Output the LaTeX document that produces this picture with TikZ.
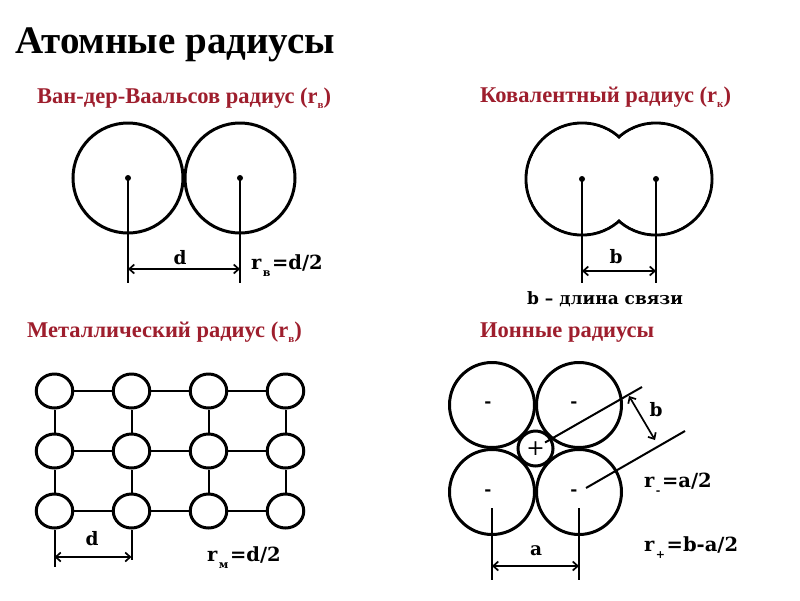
\documentclass[tikz,border=0pt]{standalone}
\usepackage{fontspec}
\setmainfont{Liberation Serif}
\newfontfamily\labfont{DejaVu Serif}
\usetikzlibrary{shapes.geometric,arrows.meta}
\definecolor{subred}{RGB}{158,30,45}
\newcommand{\lowix}[1]{\raisebox{-0.55ex}{\fontsize{11}{11}\selectfont #1}}
\newcommand{\lowlab}[1]{\hspace{1.5pt}\raisebox{-0.7ex}{\fontsize{11}{11}\selectfont #1}\hspace{1.5pt}}
\begin{document}
\begin{tikzpicture}[x=1pt,y=-1pt,
  ring/.style={circle,draw,line width=3pt,inner sep=0pt,minimum size=#1},
  metal/.style={ellipse,draw,line width=3pt,inner sep=0pt,minimum width=36.5pt,minimum height=34pt},
  dotc/.style={circle,fill,inner sep=0pt,minimum size=6pt},
  guide/.style={line width=2pt},
  dimline/.style={line width=1.7pt,{Straight Barb[length=5pt,width=9pt]}-{Straight Barb[length=5pt,width=9pt]}},
  lab/.style={font=\labfont\bfseries\fontsize{18.5}{18.5}\selectfont,inner sep=0pt},
  frm/.style={font=\labfont\bfseries\fontsize{19.5}{19.5}\selectfont,inner sep=0pt,anchor=base west},
  labb/.style={font=\labfont\bfseries\fontsize{17}{17}\selectfont,inner sep=0pt},
  sign/.style={font=\labfont\bfseries\fontsize{17}{17}\selectfont,inner sep=0pt},
  heading/.style={font=\bfseries\fontsize{22.5}{22.5}\selectfont,text=subred,inner sep=0pt,anchor=base west},
  title/.style={font=\bfseries\fontsize{39}{39}\selectfont,inner sep=0pt,anchor=base west}]
\useasboundingbox (0,0) rectangle (800,600);
\fill[white] (0,0) rectangle (800,600);

% titles
\node[title] (t) at (15,53) {Атомные радиусы};
\node[heading] (h1) at (37,103) {Ван-дер-Ваальсов радиус (r\lowix{в})};
\node[heading] (h2) at (480,102) {Ковалентный радиус (r\lowix{к})};
\node[heading] (h3) at (27,337) {Металлический радиус (r\lowix{в})};
\node[heading] (h4) at (480,337) {Ионные радиусы};

% Van der Waals
\node[ring=110pt] (v1) at (128,178) {};
\node[ring=110pt] (v2) at (240,178) {};
\node[dotc] (v1c) at (128,178) {};
\node[dotc] (v2c) at (240,178) {};
\coordinate (v1b) at (128,283);
\coordinate (v2b) at (240,283);
\coordinate (v1a) at (128,269);
\coordinate (v2a) at (240,269);
\draw[guide] (v1c.center) -- (v1b);
\draw[guide] (v2c.center) -- (v2b);
\draw[dimline] (v1a) -- (v2a);
\node[lab] (vd) at (180,258) {d};
\node[frm] (vr) at (251,269) {r\lowlab{в}=d/2};

% Covalent
\node[ring=112pt] (c1) at (582,179) {};
\node[ring=112pt] (c2) at (656,179) {};
\fill[white] (c1.center) circle[radius=54.4pt];
\fill[white] (c2.center) circle[radius=54.4pt];
\node[dotc] (c1c) at (582,179) {};
\node[dotc] (c2c) at (656,179) {};
\coordinate (c1b) at (582,283);
\coordinate (c2b) at (656,283);
\coordinate (c1a) at (582,271);
\coordinate (c2a) at (656,271);
\draw[guide] (c1c.center) -- (c1b);
\draw[guide] (c2c.center) -- (c2b);
\draw[dimline] (c1a) -- (c2a);
\node[lab] (cb) at (616,257) {b};
\node[labb,anchor=base] (cl) at (605,304) {b – длина связи};

% Metallic
\foreach \r/\y in {1/391,2/451,3/511}{
  \foreach \c/\x in {1/54.5,2/131.5,3/208.5,4/285.5}{
    \node[metal] (m-\r-\c) at (\x,\y) {};
  }
}
\foreach \r in {1,2,3}{
  \draw[guide] (m-\r-1) -- (m-\r-2);
  \draw[guide] (m-\r-2) -- (m-\r-3);
  \draw[guide] (m-\r-3) -- (m-\r-4);
}
\foreach \c in {1,2,3,4}{
  \draw[guide] (m-1-\c) -- (m-2-\c);
  \draw[guide] (m-2-\c) -- (m-3-\c);
}
\coordinate (mb1) at (54.5,567);
\coordinate (mb2) at (131.5,560);
\draw[guide] (m-3-1) -- (mb1);
\draw[guide] (m-3-2) -- (mb2);
\coordinate (ma1) at (54.5,557);
\coordinate (ma2) at (131.5,557);
\draw[dimline] (ma1) -- (ma2);
\node[lab] (md) at (92,539) {d};
\node[frm] (mr) at (207,561) {r\lowlab{м}=d/2};

% Ionic
\node[ring=85pt] (i1) at (492,405) {};
\node[ring=85pt] (i2) at (579,405) {};
\node[ring=85pt] (i3) at (492,492) {};
\node[ring=85pt] (i4) at (579,492) {};
\node[ring=35pt] (ip) at (535.5,448.5) {};
\node[sign] at (488,405) {-};
\node[sign] at (574,405) {-};
\node[sign] at (488,493) {-};
\node[sign] at (574,493) {-};
\node[sign,font=\labfont\fontsize{22}{22}\selectfont] at (535.5,449) {+};
\coordinate (l1s) at (545,442.5);
\coordinate (l1e) at (642,387);
\coordinate (l2s) at (586,488);
\coordinate (l2e) at (685,431);
\draw[guide] (l1s) -- (l1e);
\draw[guide] (l2s) -- (l2e);
\coordinate (ba) at (629,396);
\coordinate (bb) at (655,440);
\draw[dimline] (ba) -- (bb);
\node[lab] (ib) at (656,410) {b};
\coordinate (ia1) at (492,508);
\coordinate (ia2) at (492,580);
\coordinate (ib1) at (579,508);
\coordinate (ib2) at (579,580);
\draw[guide] (ia1) -- (ia2);
\draw[guide] (ib1) -- (ib2);
\coordinate (iaa) at (492,566);
\coordinate (iab) at (579,566);
\draw[dimline] (iaa) -- (iab);
\node[lab] (ia) at (536,551) {a};
\node[frm] (ir1) at (644,487) {r\lowlab{-}=a/2};
\node[frm] (ir2) at (644,551) {r\lowlab{+}=b-a/2};
\end{tikzpicture}
\end{document}
